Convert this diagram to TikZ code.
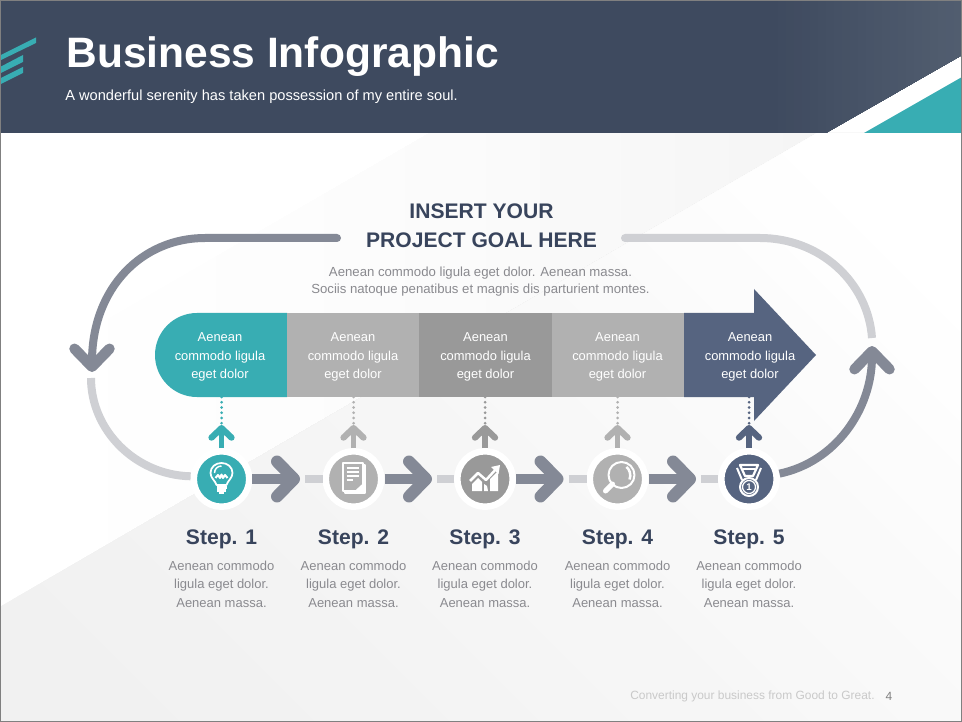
\documentclass[tikz,border=0pt]{standalone}
\usepackage{fontspec}
\setmainfont{Liberation Sans}
\usepackage{xcolor}
\usetikzlibrary{arrows.meta}
\definecolor{headnavy}{RGB}{62,74,95}
\definecolor{headlight}{RGB}{82,94,112}
\definecolor{titlenavy}{RGB}{56,68,92}
\definecolor{teal}{RGB}{56,173,179}
\definecolor{steelnavy}{RGB}{86,100,128}
\definecolor{graylight}{RGB}{177,177,177}
\definecolor{graydark}{RGB}{153,153,153}
\definecolor{loopdark}{RGB}{132,137,150}
\definecolor{looplight}{RGB}{207,208,212}
\definecolor{bodygray}{RGB}{138,138,143}
\tikzset{
    barbox/.style={minimum width=2.66cm, minimum height=1.68cm, inner sep=0pt, align=center,
      text=white, font=\fontsize{7.35}{10.5}\selectfont},
    stepdisc/.style={circle, minimum size=1.11cm, inner sep=0pt, draw=white, line width=0.13cm},
    steptitle/.style={inner sep=0pt, text=titlenavy, font=\bfseries\fontsize{12}{14}\selectfont},
    stepbody/.style={inner sep=0pt, align=center, text=bodygray, font=\fontsize{7.4}{10.5}\selectfont},
    nextarrow/.style={draw=loopdark, line width=0.2cm,
      -{Straight Barb[length=0.34cm, width=0.7cm, line width=0.24cm, round]}},
    nextlink/.style={draw=looplight, line width=0.16cm},
    uparrow/.style={line width=0.11cm,
      -{Straight Barb[length=0.19cm, width=0.4cm, line width=0.125cm, round]}},
    updots/.style={line width=0.06cm, line cap=round, dash pattern=on 0pt off 0.105cm},
    loopdarkline/.style={draw=loopdark, line width=0.16cm, line cap=round},
    looplightline/.style={draw=looplight, line width=0.16cm},
    looptip/.style={-{Straight Barb[length=0.36cm, width=0.7cm, line width=0.21cm, round]}},
    iconline/.style={draw=white, line width=0.03cm, line join=round},
    bulbicon/.pic={
        \draw[iconline, line width=0.035cm] (-5,6) .. controls (-6,2) and (-11,-1) .. (-11,-6)
          .. controls (-11,-12) and (-6,-16) .. (0,-16) .. controls (6,-16) and (11,-12) .. (11,-6)
          .. controls (11,-1) and (6,2) .. (5,6) -- cycle;
        \draw[iconline] (-7,-6) .. controls (-7,-10) and (-4,-13) .. (0,-13);
        \draw[iconline, line width=0.04cm] (-6,-1) -- (-3.5,-4) -- (-1.5,-1) -- (0,-4.5) -- (1.5,-1) -- (3.5,-4) -- (6,-1);
        \draw[iconline, line width=0.05cm] (-5,8.5) -- (5,8.5) (-4.5,11.5) -- (4.5,11.5) (-2.5,14) -- (2.5,14);
    },
    pageicon/.pic={
        \draw[iconline, line width=0.04cm] (9,-14) -- (11,-14) -- (11,14) -- (-9,14) -- (-9,12);
        \draw[iconline, line width=0.04cm] (-11,-16) rectangle (9,12);
        \draw[iconline, line width=0.04cm] (-7,-11) -- (5,-11) (-7,-7) -- (5,-7) (-7,-3) -- (5,-3) (-7,1) -- (-1,1);
        \fill[white] (-1,14) -- (11,3) -- (11,14) -- cycle;
    },
    charticon/.pic={
        \fill[white] (-13,12) -- (-13,5) -- (-7,-1) -- (-3,3) -- (-3,12) -- cycle;
        \fill[white] (-1,12) -- (-1,5) -- (2,7) -- (3,12) -- cycle;
        \fill[white] (5,12) -- (5,0) -- (13,-8) -- (13,12) -- cycle;
        \draw[iconline, line width=0.05cm] (-15,2) -- (-7,-6) -- (1,1) -- (12,-11);
        \fill[white] (15,-14) -- (13.5,-5) -- (6,-12) -- cycle;
    },
    lensicon/.pic={
        \draw[iconline, line width=0.04cm] (4,-4) circle[radius=13];
        \draw[iconline, line width=0.05cm] (8.8,-12) .. controls (12,-10) and (14,-4) .. (12,0.5);
        \draw[iconline, line width=0.1cm, line cap=round] (-5,5) -- (-12,12);
    },
    medalicon/.pic={
        \draw[iconline, line width=0.045cm] (-9,-14) -- (9,-14) -- (4,-3) -- (-4,-3) -- cycle;
        \draw[iconline, line width=0.04cm] (-6,-10) -- (6,-10);
        \draw[iconline, line width=0.04cm] (-12,-11) -- (-7,1) (12,-11) -- (7,1);
        \draw[iconline, line width=0.04cm] (0,8) circle[radius=9];
        \draw[iconline, line width=0.025cm] (0,8) circle[radius=6.5];
    },
}
\begin{document}
\begin{tikzpicture}[x=0.02cm, y=-0.02cm]
    \useasboundingbox (0,0) rectangle (962,722);
    % background
    \fill[white] (0,0) rectangle (962,722);
    \begin{scope}
        \clip (430,133) -- (817,133) -- (0,607) -- (0,382) -- cycle;
        \foreach \i in {0,...,30} {
            \pgfmathsetmacro{\tone}{4*(\i/30)^1.5}
            \fill[black!\tone] (27*\i,133) rectangle (962,722);
        }
    \end{scope}
    \begin{scope}
        \clip (817,133) -- (962,133) -- (962,722) -- (0,722) -- (0,607) -- cycle;
        \foreach \i in {0,...,30} {
            \pgfmathsetmacro{\tone}{5.5*(1-(\i/30)^1.5)}
            \fill[black!\tone] (-722+45*\i,0) -- (45*\i,722) -- (2000,722) -- (2000,0) -- cycle;
        }
    \end{scope}
    % header
    \begin{scope}
        \clip (0,0) -- (962,0) -- (962,55) -- (826,133) -- (0,133) -- cycle;
        \fill[headnavy] (0,0) rectangle (962,133);
        \foreach \i in {0,...,24} {
            \pgfmathsetmacro{\tone}{100*\i/24}
            \fill[headlight!\tone!headnavy] (770+8*\i,0) rectangle (962,133);
        }
    \end{scope}
    \fill[teal] (864,133) -- (962,77) -- (962,133) -- cycle;
    \fill[teal] (36,37.5) -- (36,43) -- (1,60) -- (1,55) -- cycle;
    \fill[teal] (23,55) -- (23,62) -- (1,73) -- (1,66.5) -- cycle;
    \fill[teal] (23,67) -- (23,73) -- (1,84) -- (1,78) -- cycle;
    \node[anchor=west, inner sep=0pt, text=white, font=\bfseries\fontsize{24.2}{29}\selectfont] (title) at (66,57) {Business Infographic};
    \node[anchor=west, inner sep=0pt, text=white, font=\fontsize{8.32}{10}\selectfont] (subtitle) at (65,96.5) {A wonderful serenity has taken possession of my entire soul.};
    % goal
    \node[inner sep=0pt, align=center, text=titlenavy, font=\bfseries\fontsize{12}{16.5}\selectfont] (goal) at (481.5,226) {INSERT YOUR\\PROJECT GOAL HERE};
    \node[inner sep=0pt, align=center, text=bodygray, font=\fontsize{7.5}{10}\selectfont] (goaltext) at (480.5,281.5) {Aenean commodo ligula eget dolor. Aenean massa.\\Sociis natoque penatibus et magnis dis parturient montes.};
    % bar
    \fill[steelnavy] (684,313) -- (754,313) -- (754,289) -- (816,355) -- (754,421) -- (754,397) -- (684,397) -- cycle;
    \fill[teal] (287,313) {[rounded corners=0.84cm] -- (155,313) -- (155,397)} -- (287,397) -- cycle;
    \node[barbox] (barA) at (220,357) {Aenean\\commodo ligula\\eget dolor};
    \fill[graylight] (287,313) rectangle (419,397);
    \fill[graydark] (419,313) rectangle (552,397);
    \fill[graylight] (552,313) rectangle (684,397);
    \node[barbox] (barB) at (353,357) {Aenean\\commodo ligula\\eget dolor};
    \node[barbox] (barC) at (485.5,357) {Aenean\\commodo ligula\\eget dolor};
    \node[barbox] (barD) at (617.5,357) {Aenean\\commodo ligula\\eget dolor};
    \node[barbox, minimum width=1.2cm] (barE) at (750,357) {Aenean\\commodo ligula\\eget dolor};
    % steps
    \foreach \n/\x/\col/\icon/\name in {A/221.5/teal/bulbicon/1, B/353.5/graylight/pageicon/2, C/485/graydark/charticon/3, D/617.5/graylight/lensicon/4, E/749/steelnavy/medalicon/5} {
        \node[stepdisc, fill=\col] (step\n) at (\x,479) {};
        \pic at (\x,479) {\icon};
        \coordinate (up\n) at (\x,425);
        \coordinate (dots\n) at (\x,397);
        \coordinate (tip\n) at (\x+78.5,479);
        \draw[uparrow, draw=\col] (step\n.north) -- (up\n);
        \draw[updots, draw=\col] (dots\n) -- (up\n);
        \node[steptitle] (title\n) at (\x,539) {Step. \name};
        \node[stepbody] (body\n) at (\x,584) {Aenean commodo\\ligula eget dolor.\\Aenean massa.};
    }
    \node[inner sep=0pt, text=white, font=\bfseries\fontsize{5.5}{6}\selectfont] (medalnum) at (749,487) {1};
    % links
    \foreach \a/\b in {A/B, B/C, C/D, D/E} {
        \draw[nextlink, shorten <=0.1cm] (tip\a) -- (step\b.west);
        \draw[nextarrow] (step\a.east) -- (tip\a);
    }
    % loop
    \coordinate (goalleft) at (337,238);
    \coordinate (goalright) at (625,238);
    \coordinate (leftarrow) at (92,372);
    \coordinate (leftlow) at (91,378);
    \coordinate (rightarrow) at (872,346);
    \coordinate (righttop) at (872,338);
    \draw[loopdarkline, looptip] (goalleft) -- (205,238) .. controls (142,238) and (92,288) .. (leftarrow);
    \draw[looplightline] (leftlow) .. controls (91,430) and (135,475) .. (stepA.175);
    \draw[looplightline] (goalright) -- (760,238) .. controls (820,238) and (868,282) .. (righttop);
    \draw[looplightline, line cap=round] (goalright) -- (640,238);
    \draw[loopdarkline, line cap=butt, looptip] (stepE.10) .. controls (835,462) and (872,410) .. (rightarrow);
    % footer
    \node[anchor=east, inner sep=0pt, text=black!21, font=\fontsize{6.8}{8}\selectfont] (footer) at (875,696) {Converting your business from Good to Great.};
    \node[inner sep=0pt, text=black!50, font=\fontsize{6.8}{8}\selectfont] (pagenum) at (889,696) {4};
    \draw[black!50, line width=0.03cm] (0.7,0.7) rectangle (961.3,721.3);
\end{tikzpicture}
\end{document}
